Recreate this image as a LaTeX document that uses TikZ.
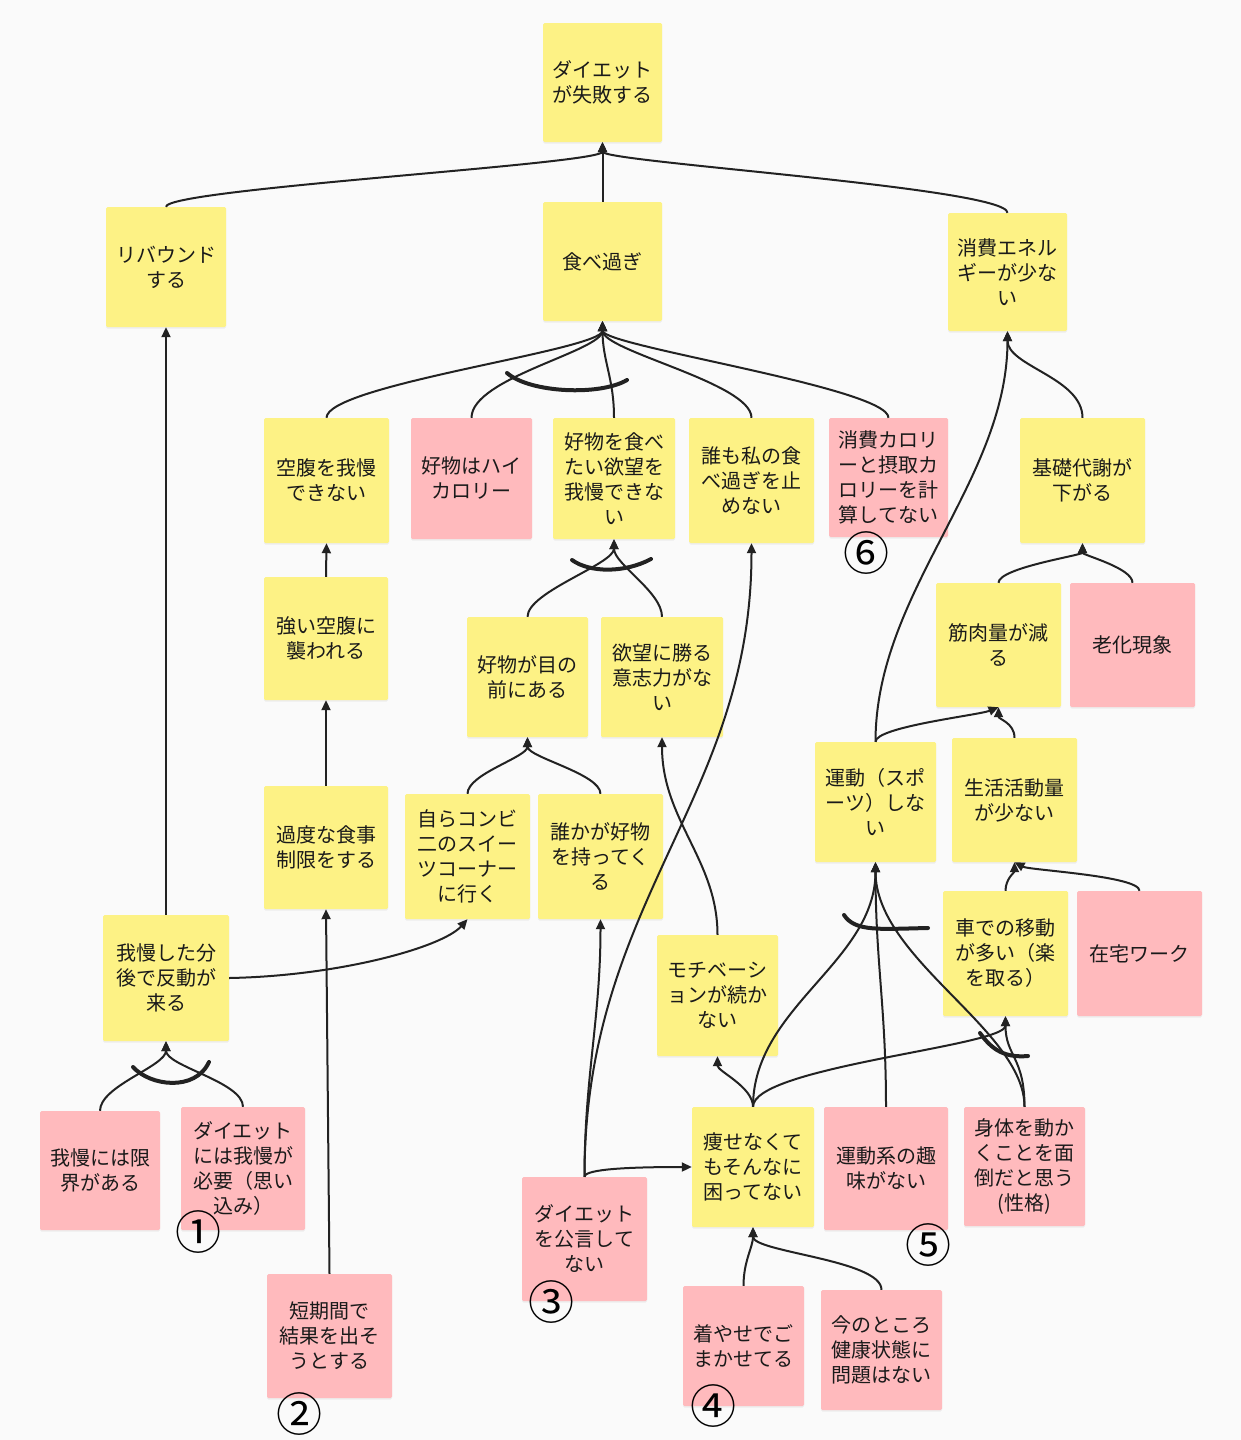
\documentclass[tikz,border=0pt]{standalone}
\usepackage{fontspec}
\setmainfont{Noto Sans CJK JP}
\usetikzlibrary{arrows.meta,shadows}
\definecolor{bg}{HTML}{FAFAFA}
\definecolor{yel}{HTML}{FDF285}
\definecolor{pnk}{HTML}{FFBABD}
\definecolor{lc}{HTML}{222222}
\definecolor{tc}{HTML}{1A1A1A}
\begin{document}
\begin{tikzpicture}[x=1pt,y=-1pt,
  card/.style={inner sep=0pt, rounded corners=1.5pt, align=center,
    font=\fontsize{20pt}{25pt}\selectfont, text=tc,
    drop shadow={shadow xshift=0pt,shadow yshift=-1.5pt,opacity=0.10}},
  yel/.style={card, fill=yel},
  pnk/.style={card, fill=pnk},
  con/.style={draw=lc, line width=2pt},
  arr/.style={con, -{Triangle[length=10pt,width=9pt]}},
  andarc/.style={draw=lc, line width=4pt, line cap=round},
  num/.style={inner sep=0pt, text=black, font=\fontsize{46pt}{46pt}\selectfont}]
\fill[bg] (0,0) rectangle (1241,1440);
\useasboundingbox (0,0) rectangle (1241,1440);

% nodes
\node[yel, minimum width=119pt, minimum height=119pt] (top) at (602.5,82.5) {ダイエット\\が失敗する};
\node[yel, minimum width=120pt, minimum height=120pt] (reb) at (166,267) {リバウンド\\する};
\node[yel, minimum width=119pt, minimum height=119pt] (tab) at (602.5,261.5) {食べ過ぎ};
\node[yel, minimum width=119pt, minimum height=118pt] (sho) at (1007.5,272) {消費エネル\\ギーが少な\\い};
\node[yel, minimum width=125pt, minimum height=125pt] (kuf) at (326.5,480.5) {空腹を我慢\\できない};
\node[pnk, minimum width=121pt, minimum height=121pt] (kou) at (471.5,478.5) {好物はハイ\\カロリー};
\node[yel, minimum width=122pt, minimum height=121pt] (kob) at (614,478.5) {好物を食べ\\たい欲望を\\我慢できな\\い};
\node[yel, minimum width=125pt, minimum height=125pt] (dar) at (751.5,480.5) {誰も私の食\\べ過ぎを止\\めない};
\node[pnk, minimum width=119pt, minimum height=119pt] (cal) at (888.5,477.5) {消費カロリ\\ーと摂取カ\\ロリーを計\\算してない};
\node[yel, minimum width=125pt, minimum height=125pt] (kis) at (1082.5,480.5) {基礎代謝が\\下がる};
\node[yel, minimum width=124pt, minimum height=123pt] (tsu) at (326,638.5) {強い空腹に\\襲われる};
\node[yel, minimum width=121pt, minimum height=120pt] (men) at (527.5,677) {好物が目の\\前にある};
\node[yel, minimum width=122pt, minimum height=120pt] (iyo) at (662,677) {欲望に勝る\\意志力がな\\い};
\node[yel, minimum width=125pt, minimum height=124pt] (kin) at (998.5,645) {筋肉量が減\\る};
\node[pnk, minimum width=125pt, minimum height=124pt] (rou) at (1132.5,645) {老化現象};
\node[yel, minimum width=121pt, minimum height=120pt] (und) at (875.5,802) {運動（スポ\\ーツ）しな\\い};
\node[yel, minimum width=125pt, minimum height=124pt] (sei) at (1014.5,800) {生活活動量\\が少ない};
\node[yel, minimum width=124pt, minimum height=123pt] (kad) at (326,847.5) {過度な食事\\制限をする};
\node[yel, minimum width=125pt, minimum height=125pt] (cnv) at (467.5,856.5) {自らコンビ\\二のスイー\\ツコーナー\\に行く};
\node[yel, minimum width=125pt, minimum height=125pt] (drk) at (600.5,856.5) {誰かが好物\\を持ってく\\る};
\node[yel, minimum width=121pt, minimum height=121pt] (mot) at (717.5,995.5) {モチベーシ\\ョンが続か\\ない};
\node[yel, minimum width=125pt, minimum height=125pt] (kur) at (1005.5,953.5) {車での移動\\が多い（楽\\を取る）};
\node[pnk, minimum width=125pt, minimum height=125pt] (zai) at (1139.5,953.5) {在宅ワーク};
\node[yel, minimum width=126pt, minimum height=126pt] (gam) at (166,978) {我慢した分\\後で反動が\\来る};
\node[pnk, minimum width=120pt, minimum height=119pt] (gen) at (100,1170.5) {我慢には限\\界がある};
\node[pnk, minimum width=124pt, minimum height=123pt] (hit) at (243,1168.5) {ダイエット\\には我慢が\\必要（思い\\込み）};
\node[pnk, minimum width=125pt, minimum height=124pt] (tan) at (329.5,1336) {短期間で\\結果を出そ\\うとする};
\node[pnk, minimum width=125pt, minimum height=124pt] (koj) at (584.5,1239) {ダイエット\\を公言して\\ない};
\node[yel, minimum width=122pt, minimum height=120pt] (yas) at (753,1167) {痩せなくて\\もそんなに\\困ってない};
\node[pnk, minimum width=124pt, minimum height=123pt] (shu) at (886,1168.5) {運動系の趣\\味がない};
\node[pnk, minimum width=121pt, minimum height=119pt] (mdo) at (1024.5,1166.5) {身体を動か\\くことを面\\倒だと思う\\(性格)};
\node[pnk, minimum width=121pt, minimum height=120pt] (kiy) at (743.5,1346) {着やせでご\\まかせてる};
\node[pnk, minimum width=121pt, minimum height=120pt] (ken) at (881.5,1350) {今のところ\\健康状態に\\問題はない};

% connectors
\draw[arr] (reb.north) .. controls +(0,-18) and +(0,22) .. (top.south);
\draw[arr] (tab.north) -- (top.south);
\draw[arr] (sho.north) .. controls +(0,-25) and +(0,20) .. (top.south);

\draw[arr] (kuf.north) .. controls +(0,-33) and +(0,29) .. (tab.south);
\draw[arr] (kou.north) .. controls +(0,-40) and +(0,30) .. (tab.south);
\draw[arr] (kob.north) .. controls +(0,-40) and +(0,40) .. (tab.south);
\draw[arr] (dar.north) .. controls +(0,-35) and +(0,30) .. (tab.south);
\draw[arr] (cal.north) .. controls +(0,-30) and +(0,25) .. (tab.south);
\draw[andarc] (507,373) .. controls (530,393) and (600,396) .. (627,380);

\draw[arr] (kis.north) .. controls +(0,-40) and +(0,35) .. (sho.south);
\draw[arr] (und.north) .. controls +(0,-150) and +(0,150) .. (sho.south);
\draw[arr] (kin.north) .. controls +(0,-15) and +(0,12) .. (kis.south);
\draw[arr] (rou.north) .. controls +(0,-15) and +(0,12) .. (kis.south);

\draw[arr] (tsu.north) -- (kuf.south);
\draw[arr] (kad.north) -- (tsu.south);
\draw[arr] (tan.north) -- (kad.south);

\draw[arr] (men.north) .. controls +(0,-25) and +(0,25) .. (kob.south);
\draw[arr] (iyo.north) .. controls +(0,-25) and +(0,25) .. (kob.south);
\draw[andarc] (572,560) .. controls (590,573) and (625,573) .. (651,559);

\draw[arr] (cnv.north) .. controls +(0,-20) and +(0,20) .. (men.south);
\draw[arr] (drk.north) .. controls +(0,-20) and +(0,20) .. (men.south);

\draw[arr] (gam.north) -- (reb.south);
\draw[arr] (gam.east) .. controls +(110,-2) and +(-25,28) .. (cnv.south);
\draw[arr] (gen.north) .. controls +(0,-25) and +(0,25) .. (gam.south);
\draw[arr] (hit.north) .. controls +(0,-25) and +(0,25) .. (gam.south);
\draw[andarc] (133,1067) .. controls (150,1086) and (195,1092) .. (209,1062);

\draw[arr] (koj.north) .. controls +(0,-100) and +(0,100) .. (drk.south);
\draw[arr] (koj.north) .. controls +(0,-277) and +(0,257) .. (dar.south);
\draw[arr] (koj.north) .. controls +(0,-8) and +(-60,0) .. (yas.west);

\draw[arr] (mot.north) .. controls +(0,-75) and +(0,83) .. (iyo.south);
\draw[arr] (yas.north) .. controls +(0,-20) and +(0,15) .. (mot.south);
\draw[arr] (yas.north) .. controls +(0,-100) and +(0,100) .. (und.south);
\draw[arr] (yas.north) .. controls +(0,-40) and +(0,30) .. (kur.south);
\draw[arr] (shu.north) .. controls +(0,-100) and +(0,100) .. (und.south);
\draw[arr] (mdo.north) .. controls +(0,-77) and +(0,97) .. (und.south);
\draw[arr] (mdo.north) .. controls +(0,-50) and +(0,40) .. (kur.south);
\draw[andarc] (844,915) .. controls (855,932) and (880,929) .. (928,928);
\draw[andarc] (980,1033) .. controls (992,1050) and (1005,1058) .. (1028,1056);

\draw[arr] (kiy.north) .. controls +(0,-25) and +(0,20) .. (yas.south);
\draw[arr] (ken.north) .. controls +(0,-30) and +(0,25) .. (yas.south);

\draw[arr] (und.north) .. controls +(0,-15) and +(-20,8) .. (kin.south);
\draw[arr] (sei.north) .. controls +(0,-15) and +(0,12) .. (kin.south);
\draw[arr] (kur.north) .. controls +(0,-12) and +(0,10) .. (sei.south);
\draw[arr] (zai.north) .. controls +(0,-15) and +(15,8) .. (sei.south);

% circled numbers
\node[num] (n1) at (198,1232) {①};
\node[num] (n2) at (299,1414) {②};
\node[num] (n3) at (551,1302) {③};
\node[num] (n4) at (713,1406) {④};
\node[num] (n5) at (928,1245) {⑤};
\node[num] (n6) at (866,553) {⑥};
\end{tikzpicture}
\end{document}
